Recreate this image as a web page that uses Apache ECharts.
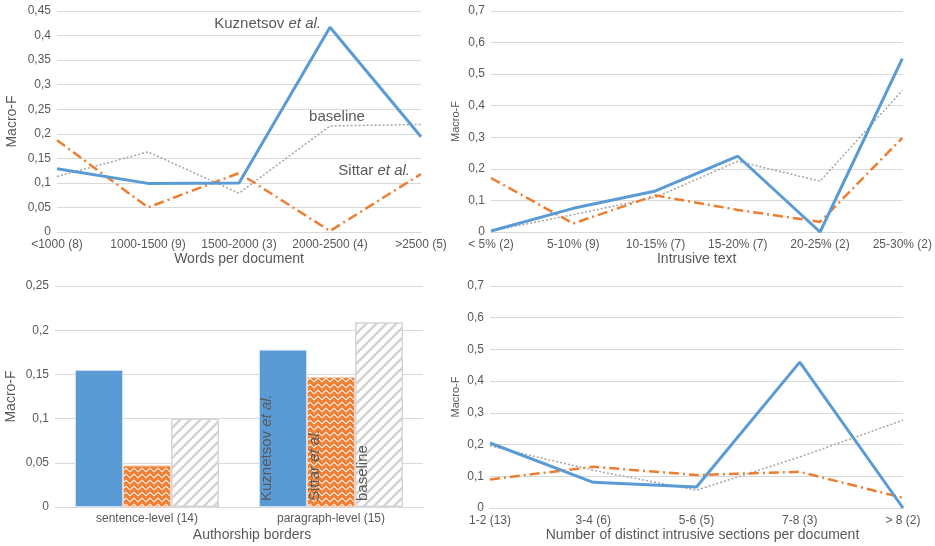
<!DOCTYPE html>
<html>
<head>
<meta charset="utf-8">
<script src="https://cdn.jsdelivr.net/npm/echarts@6/dist/echarts.min.js"></script>
<style>
html,body{margin:0;padding:0;background:#fff;}
#chart{width:935px;height:546px;}
</style>
</head>
<body>
<div id="chart"></div>
<script>
// ---- data ----
const wordsCats = ['<1000 (8)', '1000-1500 (9)', '1500-2000 (3)', '2000-2500 (4)', '>2500 (5)'];
const wordsKuz = [0.129, 0.099, 0.100, 0.417, 0.194];
const wordsSittar = [0.187, 0.050, 0.120, 0.002, 0.118];
const wordsBase = [0.113, 0.163, 0.079, 0.216, 0.219];

const intrCats = ['< 5% (2)', '5-10% (9)', '10-15% (7)', '15-20% (7)', '20-25% (2)', '25-30% (2)'];
const intrKuz = [0.003, 0.075, 0.130, 0.240, 0.000, 0.549];
const intrSittar = [0.171, 0.027, 0.116, 0.070, 0.032, 0.298];
const intrBase = [0.003, 0.055, 0.110, 0.224, 0.161, 0.448];

const authCats = ['sentence-level (14)', 'paragraph-level (15)'];
const authKuz = [0.155, 0.178];
const authSittar = [0.047, 0.147];
const authBase = [0.100, 0.209];

const sectCats = ['1-2 (13)', '3-4 (6)', '5-6 (5)', '7-8 (3)', '> 8 (2)'];
const sectKuz = [0.205, 0.081, 0.066, 0.460, 0.000];
const sectSittar = [0.090, 0.130, 0.104, 0.114, 0.032];
const sectBase = [0.196, 0.119, 0.056, 0.161, 0.277];

const yTicks1 = {min: 0, max: 0.45, interval: 0.05};
const yTicks2 = {min: 0, max: 0.7, interval: 0.1};
const yTicks3 = {min: 0, max: 0.25, interval: 0.05};
const yTicks4 = {min: 0, max: 0.7, interval: 0.1};

// ---- styles ----
const BLUE = '#5b9bd5', ORANGE = '#ed7d31', GRAY = '#a5a5a5', TXT = '#595959', GRID = '#d9d9d9';
const FONT = 'Liberation Sans';

function stripePattern() {
  const c = document.createElement('canvas');
  c.width = 10; c.height = 10;
  const g = c.getContext('2d');
  g.fillStyle = '#ffffff'; g.fillRect(0, 0, 10, 10);
  g.strokeStyle = '#d3d3d3'; g.lineWidth = 2.6;
  [[-10, 10, 10, -10], [0, 10, 10, 0], [0, 20, 20, 0]].forEach(function (l) {
    g.beginPath(); g.moveTo(l[0], l[1]); g.lineTo(l[2], l[3]); g.stroke();
  });
  return c;
}
function wavePattern() {
  const c = document.createElement('canvas');
  c.width = 8; c.height = 6;
  const g = c.getContext('2d');
  g.fillStyle = ORANGE; g.fillRect(0, 0, 8, 6);
  g.strokeStyle = 'rgba(255,255,255,0.95)'; g.lineWidth = 1.1;
  g.beginPath();
  for (let x = 0; x <= 8; x += 0.5) {
    const y = 2 + 1.4 * Math.sin(2 * Math.PI * x / 8);
    if (x === 0) g.moveTo(x, y); else g.lineTo(x, y);
  }
  g.stroke();
  g.fillStyle = 'rgba(255,255,255,0.55)';
  g.fillRect(1.5, 4.6, 1, 1);
  g.fillRect(5.5, 4.6, 1, 1);
  return c;
}

const fmt = v => String(+v.toFixed(2)).replace('.', ',');

function xAxis(idx, cats, name, gapName, boundary, labelMargin, namePad) {
  return {
    type: 'category', gridIndex: idx, data: cats, boundaryGap: boundary,
    axisLine: {show: true, lineStyle: {color: GRID, width: 1}},
    axisTick: {show: false},
    axisLabel: {color: TXT, fontSize: 12, fontFamily: FONT, margin: labelMargin, interval: 0},
    name: name, nameLocation: 'middle', nameGap: gapName,
    nameTextStyle: {color: TXT, fontSize: 14, fontFamily: FONT, padding: namePad || 0}
  };
}
function yAxis(idx, t, nameSize, nameGap) {
  return {
    type: 'value', gridIndex: idx, min: t.min, max: t.max, interval: t.interval,
    axisLine: {show: false}, axisTick: {show: false},
    splitLine: {show: true, lineStyle: {color: GRID, width: 1}},
    axisLabel: {color: TXT, fontSize: 12, fontFamily: FONT, margin: 6, formatter: fmt},
    name: 'Macro-F', nameLocation: 'middle', nameGap: nameGap,
    nameTextStyle: {color: TXT, fontSize: nameSize, fontFamily: FONT}
  };
}

const kuzLine = {color: BLUE, width: 3};
const sitLine = {color: ORANGE, width: 2.5, type: [10, 4, 2, 4]};
const baseLine = {color: GRAY, width: 1.5, type: [2, 2]};

function lineSeries(idx, name, data, style, z) {
  return {
    type: 'line', name: name, xAxisIndex: idx, yAxisIndex: idx, data: data,
    symbol: 'circle', symbolSize: 0, lineStyle: style, itemStyle: {color: style.color},
    z: z, silent: true, animation: false
  };
}
const rich = {
  n: {color: TXT, fontSize: 15, fontFamily: FONT},
  i: {color: TXT, fontSize: 15, fontFamily: FONT, fontStyle: 'italic'}
};
function withLabel(arr, idx, formatter, position, offset) {
  return arr.map((v, k) => k === idx ? {
    value: v,
    label: {show: true, position: position, offset: offset, formatter: formatter, rich: rich}
  } : v);
}

function barLabel(text) {
  return {
    show: true, position: [8, '100%'], rotate: 90, align: 'left', verticalAlign: 'middle',
    padding: [0, 0, 0, 6], formatter: text, rich: rich
  };
}
function barData(arr, text) {
  return arr.map((v, k) => k === 1 ? {value: v, label: barLabel(text)} : v);
}

const option = {
  animation: false,
  textStyle: {fontFamily: FONT},
  grid: [
    {left: 57, top: 11, width: 364, height: 221},
    {left: 491, top: 11, width: 414, height: 221},
    {left: 55, top: 286, width: 368, height: 221},
    {left: 490, top: 286, width: 413, height: 222}
  ],
  xAxis: [
    xAxis(0, wordsCats, 'Words per document', 20, false, 7),
    xAxis(1, intrCats, 'Intrusive text', 19, false, 7),
    xAxis(2, authCats, 'Authorship borders', 21, true, 6, [0, 0, 0, 26]),
    xAxis(3, sectCats, 'Number of distinct intrusive sections per document', 20, false, 7, [0, 0, 0, 12])
  ],
  yAxis: [
    yAxis(0, yTicks1, 14, 38),
    yAxis(1, yTicks2, 11, 30),
    yAxis(2, yTicks3, 14, 37),
    yAxis(3, yTicks4, 11, 29)
  ],
  series: [
    lineSeries(0, 'baseline', withLabel(wordsBase, 3, '{n|baseline}', 'top', [7, 3]), baseLine, 2),
    lineSeries(0, 'Sittar et al.', withLabel(wordsSittar, 4, '{n|Sittar }{i|et al.}', 'left', [-6, -3]), sitLine, 3),
    lineSeries(0, 'Kuznetsov et al.', withLabel(wordsKuz, 3, '{n|Kuznetsov }{i|et al.}', 'left', [-4, -3]), kuzLine, 4),

    lineSeries(1, 'baseline', intrBase, baseLine, 2),
    lineSeries(1, 'Sittar et al.', intrSittar, sitLine, 3),
    lineSeries(1, 'Kuznetsov et al.', intrKuz, kuzLine, 4),

    {type: 'bar', name: 'Kuznetsov et al.', xAxisIndex: 2, yAxisIndex: 2,
     data: barData(authKuz, '{n|Kuznetsov }{i|et al.}'), barWidth: 48, barGap: '0%',
     itemStyle: {color: BLUE, borderColor: '#cfe0f1', borderWidth: 1}},
    {type: 'bar', name: 'Sittar et al.', xAxisIndex: 2, yAxisIndex: 2,
     data: barData(authSittar, '{n|Sittar }{i|et al.}'), barWidth: 48, barGap: '0%',
     itemStyle: {color: {image: wavePattern(), repeat: 'repeat'}, borderColor: '#f7d2b8', borderWidth: 1}},
    {type: 'bar', name: 'baseline', xAxisIndex: 2, yAxisIndex: 2,
     data: barData(authBase, '{n|baseline}'), barWidth: 48, barGap: '0%',
     itemStyle: {color: {image: stripePattern(), repeat: 'repeat'}, borderColor: '#d6d6d6', borderWidth: 1.5}},

    lineSeries(3, 'baseline', sectBase, baseLine, 2),
    lineSeries(3, 'Sittar et al.', sectSittar, sitLine, 3),
    lineSeries(3, 'Kuznetsov et al.', sectKuz, kuzLine, 4)
  ]
};

const chart = echarts.init(document.getElementById('chart'), null, {renderer: 'canvas'});
chart.setOption(option);
</script>
</body>
</html>
